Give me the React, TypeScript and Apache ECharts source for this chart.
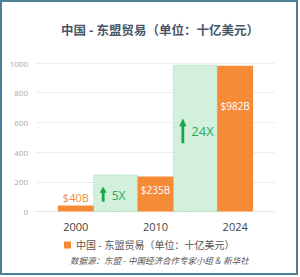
import React, { useEffect, useRef } from "react";
import * as echarts from "echarts";

const years = ["2000", "2010", "2024"];
const tradeValues = [40, 235, 982];
const growthBoxTop = [245, 985];
const growthLabels = ["5X", "24X"];
const yTicks = [0, 200, 400, 600, 800, 1000];
const seriesName = "中国 - 东盟贸易（单位：十亿美元）";
const titleText = "中国 - 东盟贸易（单位：十亿美元）";
const sourceText = "数据源：东盟 - 中国经济合作专家小组 & 新华社";

const FONT = "'Open Sans', 'Noto Sans CJK SC', sans-serif";
const ORANGE = "#f68b37";

export default function App() {
  const ref = useRef<HTMLDivElement>(null);
  useEffect(() => {
    if (!ref.current) return;
    const chart = echarts.init(ref.current, undefined, { renderer: "svg" });
    const barLabels = [
      { show: true, position: "top", distance: 3, color: ORANGE, fontSize: 11 },
      { show: true, position: "insideTop", distance: 8, color: "#fff", fontSize: 10 },
      { show: true, position: "insideTop", distance: 35, color: "#fff", fontSize: 10 },
    ];
    chart.setOption({
      animation: false,
      backgroundColor: "#fff",
      textStyle: { fontFamily: FONT },
      title: {
        text: titleText,
        left: 61,
        top: 24,
        padding: 0,
        textStyle: { fontSize: 12.5, fontWeight: "bold", color: "#4a5566", fontFamily: FONT },
      },
      legend: {
        data: [seriesName],
        left: 64,
        top: 240,
        padding: 0,
        icon: "rect",
        itemWidth: 7,
        itemHeight: 7,
        textStyle: { fontSize: 10, color: "#555", fontFamily: FONT },
      },
      grid: { left: 36, right: 25, top: 63, bottom: 65.5 },
      xAxis: {
        type: "category",
        data: years,
        axisTick: { show: false },
        axisLine: { lineStyle: { color: "#e8e8e8" } },
        axisLabel: { fontSize: 11, color: "#444", margin: 9, fontFamily: FONT },
      },
      yAxis: {
        type: "value",
        min: yTicks[0],
        max: yTicks[yTicks.length - 1],
        interval: yTicks[1] - yTicks[0],
        axisLine: { show: false },
        axisTick: { show: false },
        splitLine: { lineStyle: { color: "#eeeeee" } },
        axisLabel: {
          fontSize: 8,
          color: "#aaa",
          margin: 8,
          fontFamily: FONT,
          formatter: (v: number) => String(v),
        },
      },
      series: [
        {
          type: "custom",
          silent: true,
          z: 1,
          data: growthBoxTop.map((v, i) => [i, v, growthLabels[i]]),
          renderItem: (params: any, api: any) => {
            const i = api.value(0);
            const v = api.value(1);
            const label = growthLabels[params.dataIndex];
            const p0 = api.coord([i, 0]);
            const p1 = api.coord([i + 1, v]);
            const band = api.size([1, 0])[0];
            const half = (band * 0.45) / 2;
            const x0 = p0[0] + half;
            const x1 = p1[0] - half;
            const yT = p1[1];
            const yB = p0[1];
            const h = yB - yT;
            const cx = (x0 + x1) / 2;
            const cy = (yT + yB) / 2 + 1 - Math.max(0, (h - 40) * 0.08);
            const ah = Math.min(25, h * 0.41);
            const headH = ah < 18 ? 6 : 8;
            const ax = cx - 12.5;
            const aTop = cy - ah / 2;
            const aBot = cy + ah / 2;
            const fs = ah < 18 ? 12 : 13;
            return {
              type: "group",
              children: [
                {
                  type: "rect",
                  shape: { x: x0, y: yT, width: x1 - x0, height: h },
                  style: { fill: "#d2f0dc", stroke: "#8fd6a6", lineWidth: 1, lineDash: [1, 1.5] },
                },
                {
                  type: "polygon",
                  shape: {
                    points: [
                      [ax, aTop],
                      [ax + 3.6, aTop + headH],
                      [ax + 1.4, aTop + headH],
                      [ax + 1.4, aBot],
                      [ax - 1.4, aBot],
                      [ax - 1.4, aTop + headH],
                      [ax - 3.6, aTop + headH],
                    ],
                  },
                  style: { fill: "#17a84b" },
                },
                {
                  type: "text",
                  x: cx - 4,
                  y: cy + (ah < 18 ? 1 : 0),
                  style: {
                    text: label,
                    fill: "#1fae55",
                    fontSize: fs,
                    fontFamily: FONT,
                    align: "left",
                    verticalAlign: "middle",
                  },
                },
              ],
            };
          },
        },
        {
          name: seriesName,
          type: "bar",
          barWidth: "45%",
          z: 2,
          itemStyle: { color: ORANGE },
          data: tradeValues.map((v, i) => ({
            value: v,
            label: { ...barLabels[i], formatter: "${c}B", fontFamily: FONT },
          })),
        },
      ],
      graphic: [
        {
          type: "rect",
          shape: { x: 1, y: 1, width: 296, height: 273 },
          style: { fill: "none", stroke: "#4b7f96", lineWidth: 2 },
          silent: true,
        },
        {
          type: "text",
          left: 70,
          top: 256,
          style: {
            text: sourceText,
            fontSize: 8.5,
            fontStyle: "italic",
            fill: "#555",
            fontFamily: FONT,
          },
        },
      ],
    });
    return () => chart.dispose();
  }, []);
  return (
    <div style={{ position: "fixed", left: 0, top: 0, width: 300, height: 277 }}>
      <div ref={ref} style={{ width: 300, height: 277 }} />
    </div>
  );
}
